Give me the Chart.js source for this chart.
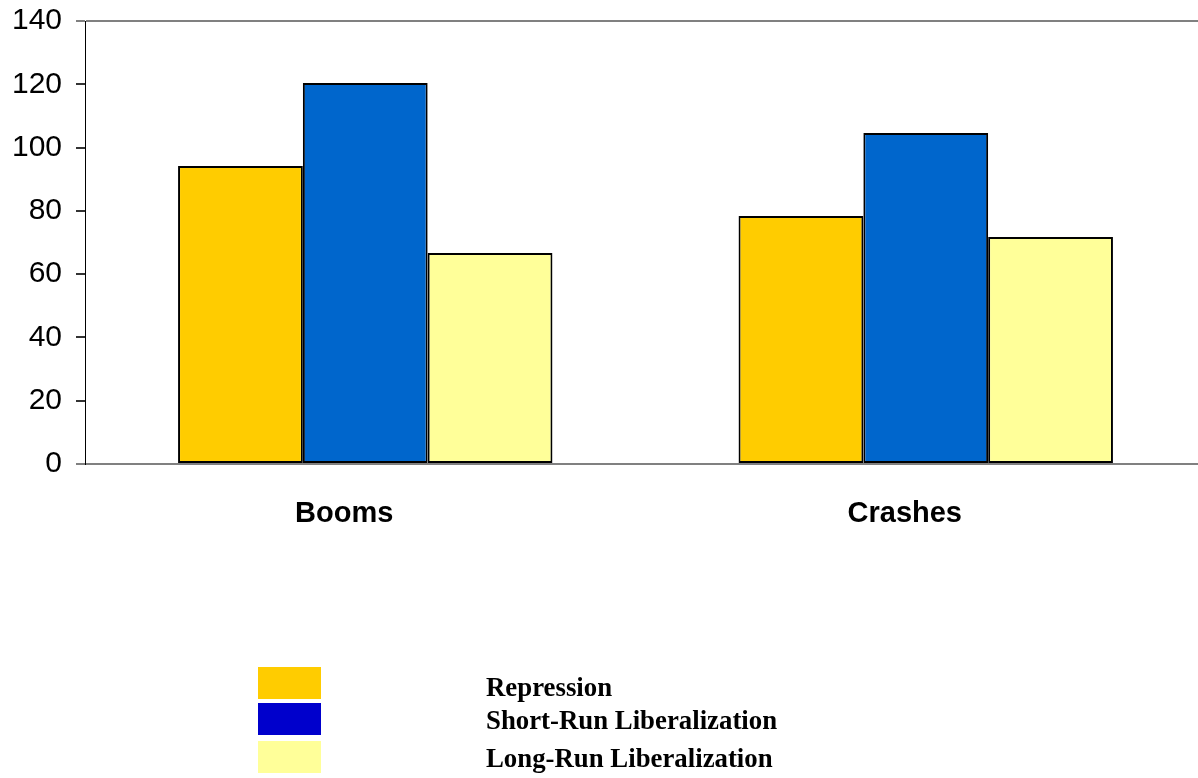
<!DOCTYPE html>
<html>
<head>
<meta charset="utf-8">
<script src="https://cdn.jsdelivr.net/npm/chart.js@4/dist/chart.umd.min.js"></script>
<style>
  html, body { margin: 0; padding: 0; background: #fff; overflow: hidden; }
  #wrap { position: relative; width: 1198px; height: 778px; overflow: hidden; }
  #cv { position: absolute; left: 0; top: 0; }
  .lg-box { position: absolute; left: 258px; width: 63px; height: 32px; }
  .lg-txt { position: absolute; left: 486px; font-family: "Liberation Serif", "Times New Roman", serif; font-weight: bold; font-size: 26.8px; line-height: 1; color: #000; white-space: nowrap; }
</style>
</head>
<body>
<div id="wrap">
  <canvas id="cv" width="1206" height="778" style="width:1206px;height:778px"></canvas>
  <div id="legend"></div>
</div>
<script>
const categories = ["Booms", "Crashes"];
const seriesNames = ["Repression", "Short-Run Liberalization", "Long-Run Liberalization"];
const repression = [94.2, 78.4];
const shortRun = [120.4, 104.6];
const longRun = [66.7, 71.7];
const yTicks = [0, 20, 40, 60, 80, 100, 120, 140];

const barColors = ["#FFCC00", "#0066CC", "#FFFF99"];
const legendColors = ["#FFCC00", "#0000CC", "#FFFF99"];

// HTML legend
const legendTops = [667, 703, 741];
const textTops = [674, 707, 745];
const lg = document.getElementById('legend');
seriesNames.forEach((n, i) => {
  const b = document.createElement('div');
  b.className = 'lg-box';
  b.style.top = legendTops[i] + 'px';
  b.style.background = legendColors[i];
  lg.appendChild(b);
  const t = document.createElement('div');
  t.className = 'lg-txt';
  t.style.top = textTops[i] + 'px';
  t.textContent = n;
  lg.appendChild(t);
});

const ds = (label, data, color) => ({
  label, data, backgroundColor: color, borderColor: '#000', borderWidth: 2,
  borderSkipped: false, categoryPercentage: 0.668, barPercentage: 1.0
});

new Chart(document.getElementById('cv'), {
  type: 'bar',
  data: {
    labels: categories,
    datasets: [
      ds(seriesNames[0], repression, barColors[0]),
      ds(seriesNames[1], shortRun, barColors[1]),
      ds(seriesNames[2], longRun, barColors[2])
    ]
  },
  options: {
    responsive: false,
    animation: false,
    devicePixelRatio: 1,
    layout: { padding: { top: 21, right: 0, bottom: 0, left: 0 } },
    plugins: { legend: { display: false }, tooltip: { enabled: false } },
    scales: {
      x: {
        grid: { display: false },
        border: { display: false },
        ticks: {
          color: '#000',
          padding: 25,
          labelOffset: -21,
          font: { family: 'Liberation Sans, Arial, sans-serif', size: 29, weight: 'bold' }
        },
        afterFit: s => { s.height = 314; s.paddingLeft = 0; s.paddingRight = 0; }
      },
      y: {
        min: 0, max: 140,
        afterBuildTicks: s => { s.ticks = yTicks.map(v => ({ value: v })); },
        border: { display: true, color: '#000', width: 1 },
        grid: {
          color: c => (c.tick && (c.tick.value === 0 || c.tick.value === 140)) ? '#808080' : 'rgba(0,0,0,0)',
          tickColor: c => (c.tick && (c.tick.value === 0 || c.tick.value === 140)) ? '#808080' : '#333',
          lineWidth: 2,
          tickLength: 9,
          drawTicks: true
        },
        ticks: {
          color: '#000',
          padding: 14,
          font: { family: 'Liberation Sans, Arial, sans-serif', size: 30 }
        },
        afterFit: s => { s.width = 85; s.paddingTop = 0; s.paddingBottom = 0; }
      }
    }
  }
});
</script>
</body>
</html>
